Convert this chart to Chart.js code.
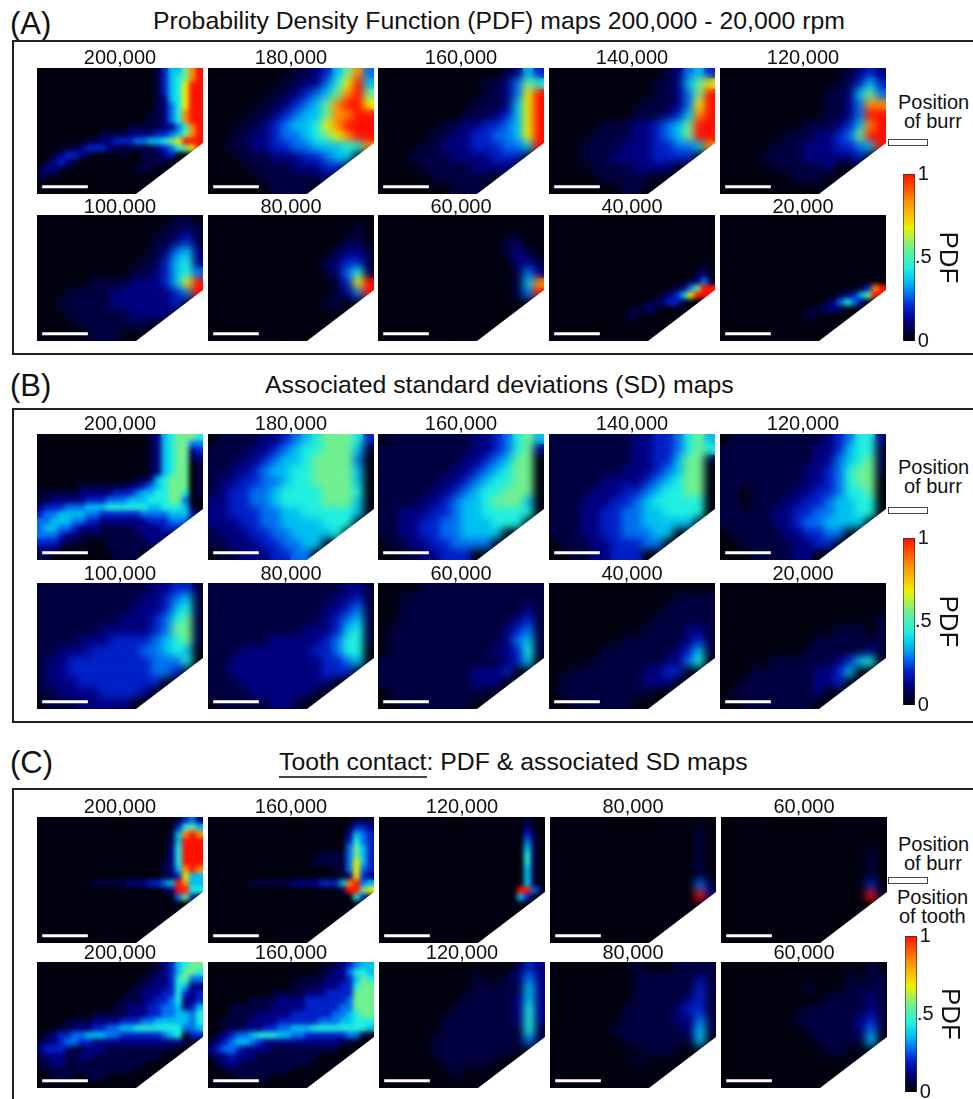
<!DOCTYPE html>
<html>
<head>
<meta charset="utf-8">
<script src="https://cdn.jsdelivr.net/npm/chart.js@4"></script>
<style>
  html, body { margin: 0; padding: 0; background: #fff; }
  #page { position: relative; width: 973px; height: 1099px; overflow: hidden; font-family: "Liberation Sans", Arial, sans-serif; color: #111; }
  #page canvas { position: absolute; display: block; }
  .txt { position: absolute; white-space: nowrap; line-height: 1; }
  .frame { position: absolute; left: 12px; width: 980px; border: 2px solid #222; box-sizing: border-box; }
  .burr { position: absolute; left: 888px; width: 40px; height: 7px; border: 1.5px solid #444; box-sizing: border-box; background: #fff; }
</style>
</head>
<body>
<div id="page"></div>
<script>
// intensity level of each cell, one hex digit per cell
// panels with thin features use 18 rows of 24 columns, the others 12 rows of 16
const a200 = ["00000000000000000135579a","00000000000000000135679a","0000000000000000013568aa","0000000000000000013568aa","0000000000000000012568aa","0000000000000000012468aa","0000000000000000112469aa","0000000000000000112469aa","00000000000001111122469a","00000000011112222334579a","000000011223334455678aaa","00001123332111111234678a","001233210000100111230000","012321000000000111100000","122100000000001110000000","110000000000000000000000","000000000000000000000000","000000000000000000000000"];
const a180 = ["0000000011235794","00000001122468a5","00000011234579a7","0000011234579aa8","00001123455799aa","0001123455689aaa","00112234456789aa","0011223344555669","0001112223345500","0000111122233000","0000011111120000","0000001111000000"];
const a160 = ["0000000000001253","0000000000112476","000000000011248a","000000000111258a","000000001112358a","000000112233458a","000001122334458a","000011222333445a","0001111222233300","0000111112222000","0000011111100000","0000000111000000"];
const a140 = ["0000000000012453","0000000000112578","000000000011247a","000000000111248a","000000001112359a","00000111223457aa","00001111223457aa","0001111222334459","0001112222333300","0000111122220000","0000011111000000","0000000110000000"];
const a120 = ["0000000000001232","0000000000011353","0000000000112574","0000000000112499","00000000001124aa","000000001112359a","00000011122347aa","000001112223345a","0000111122222300","0000011111200000","0000000111000000","0000000000000000"];
const a100 = ["0000000000000110","0000000000001121","0000000000011231","0000000000012452","0000000000113562","0000000001123564","000001111222358a","000111122222234a","0011111222222300","0001111112222000","0000111111100000","0000011100000000"];
const a80 = ["0000000000000000","0000000000000010","0000000000000110","0000000000001221","0000000000012331","0000000000012461","000000000000138a","000000000000124a","0000000000011000","0000000000000000","0000000000000000","0000000000000000"];
const a60 = ["0000000000000000","0000000000000000","0000000000001100","0000000000001210","0000000000000221","0000000000000142","0000000000000159","000000000000014a","0000000000000000","0000000000000000","0000000000000000","0000000000000000"];
const a40 = ["000000000000000000000000","000000000000000000000000","000000000000000000000000","000000000000000000000000","000000000000000000000000","000000000000000000000000","000000000000000000000000","000000000000000000000010","000000000000000000000120","000000000000000000001241","0000000000000000001247aa","000000000000000012358aaa","000000000000001123310000","000000000000112100000000","000000000001100000000000","000000000000000000000000","000000000000000000000000","000000000000000000000000"];
const a20 = ["000000000000000000000000","000000000000000000000000","000000000000000000000000","000000000000000000000000","000000000000000000000000","000000000000000000000000","000000000000000000000000","000000000000000000000000","000000000000000000000000","000000000000000000000000","00000000000000000000139a","0000000000000000012357aa","000000000000000124642000","000000000000011221000000","000000000000110000000000","000000000000000000000000","000000000000000000000000","000000000000000000000000"];

const b200 = ["000000000000000012567776","000000000000000012567744","000000000000000012567723","000000000000000012567712","000000000000000012567701","000000000000000012567701","000000000000001125677701","000000111111122345677701","111111222223334556677601","112222233344455566677400","233344455566666655666510","344555544333333444455530","445554433222222233344400","455443222111112222333000","444322111111111222200000","333211100011111122000000","222100000011111100000000","110000000001111000000000"];
const b180 = ["0111122345677763","1111223456677751","1112234556777740","1122345566777750","1223344566777750","1233445666677760","2233445666677750","2233344556666650","2223344555566600","1222334455556000","1122233445500000","0112223344000000"];
const b160 = ["0111111112234675","1111111112234672","1111111122345770","1111111223456770","1111112234566770","1111122345667770","1111223455677750","1122233455666660","1122334455566600","1122334455550000","0112233444400000","0011223330000000"];
const b140 = ["1111111122334675","1111111122334676","1111111122335771","1111111222345770","1111122223456770","1111222334566770","1112223345666660","1112233445566660","1112233445555500","1112233444550000","0111223334400000","0011223330000000"];
const b120 = ["0111111111234662","1111111112235661","1111111112245671","1111111122346771","1111111122346770","1101111223346670","1101112233455660","1111122334455660","1111122344555500","0111112233440000","0011111223300000","0001111220000000"];
const b100 = ["1111111111122331","1111111111223451","1111111112223561","1111111122234671","1111112222234771","1111222333345671","1122233333445650","1223333333344460","1223333333344300","1222333333330000","1122223333200000","0111222220000000"];
const b80 = ["1111111111111221","1111111111112231","1111111111122341","1111111111123451","1111111112223561","1111112222234661","1112222222334660","1122222222233450","1122222222233300","1112222222220000","1111222222100000","0111112210000000"];
const b60 = ["0000111111111111","0011111111111111","0011111111111121","0011111111111231","0111111111112341","0111111111112451","0111111111122361","1111111111112350","1111111112223000","1111111112220000","0111111111100000","0011111110000000"];
const b40 = ["0000000000000000","0000000000001111","0000000000011111","0000000000111111","0000000001111221","0000000111111231","0000011111112351","0000111111122460","0011111112233000","0111111112220000","0111111111000000","0011111100000000"];
const b20 = ["0000000000000000","0000000000000000","0000000000000000","0000000000000001","0000000000011101","0000000001111111","0000000011111121","0000011111123560","0001111112235000","0011111112230000","0111111112000000","0011111110000000"];

const c200 = ["000000000000000000001342","000000000000000000003675","0000000000000000000159a9","000000000000000000015aaa","000000000000000000026aaa","000000000000000000026aaa","000000000000000000126aaa","0000000000000000001259a9","000000000000000000113855","00000000111112223345a955","00000000000000000012aa66","000000000000000000004730","000000000000000000000000","000000000000000000000000","000000000000000000000000","000000000000000000000000","000000000000000000000000","000000000000000000000000"];
const c160 = ["000000000000000000000111","000000000000000000001332","000000000000000000002543","000000000000000000003643","000000000000000000004753","000000000000000011114753","000000000000000111114853","000000000000000000114843","000000000000000000002832","000000111111222233359a45","00000000000000000001aa78","000000000000000000000630","000000000000000000000000","000000000000000000000000","000000000000000000000000","000000000000000000000000","000000000000000000000000","000000000000000000000000"];
const c120 = ["000000000000000000000100","000000000000000000000200","000000000000000000000310","000000000000000000000410","000000000000000000000510","000000000000000000000610","000000000000000000000610","000000000000000000000510","000000000000000000000510","000000000000000000000510","00000000000000000000aa41","000000000000000000005300","000000000000000000000000","000000000000000000000000","000000000000000000000000","000000000000000000000000","000000000000000000000000","000000000000000000000000"];
const c80 = ["0000000000000000","0000000000000010","0000000000000010","0000000000000010","0000000000000010","0000000000000010","0000000000000041","00000000000000a2","0000000000000000","0000000000000000","0000000000000000","0000000000000000"];
const c60 = ["0000000000000000","0000000000000000","0000000000000000","0000000000000010","0000000000000010","0000000000000010","0000000000000030","00000000000000a1","0000000000000000","0000000000000000","0000000000000000","0000000000000000"];
const d200 = ["000000000000000001235677","000000000000000011235776","000000000000000112236744","000000000000001122236522","000000000000011222336323","000000000000111223346223","000000000001122233445235","000000001111122233445546","000011112222333445555546","000112223344556666666445","012334455544333333456033","122344332222222222222100","233321122211111111110000","122211221111111111000000","112211111111111100000000","011111111111110000000000","001110011100000000000000","000000000000000000000000"];
const d160 = ["000000000000000001123455","000000000000000011224665","000000000000011112223576","000000000000111122233677","000000000111112223333777","000000111122223333334777","000111111222223333344777","000111122222333333445677","001111222233333344455666","001112223344555666666665","012344566655443333334410","123455432222222222211000","234432222111111111100000","122322211111111100000000","012221111111111000000000","001111111111000000000000","000011111000000000000000","000000000000000000000000"];
const d120 = ["0000000000000132","0000000001001242","0000000001111152","0000000011111252","0000000111111262","0000001111111262","0000001111111161","0000011111111141","0000011111111000","0000001111100000","0000000100000000","0000000000000000"];
const d80 = ["0000000010001111","0000000011111121","0000000011111131","0000000011111231","0000000111112331","0000000111112241","0000001111111251","0000000111111150","0000000001110000","0000000010000000","0000000000000000","0000000000000000"];
const d60 = ["0000000000000010","0000000000001011","0000000010001111","0000000000111121","0000000011111121","0000000111111231","0000000011111241","0000000001111150","0000000000110000","0000000000000000","0000000000000000","0000000000000000"];

const rpmLabels = ["200,000","180,000","160,000","140,000","120,000","100,000","80,000","60,000","40,000","20,000"];
const toothLabels = ["200,000","160,000","120,000","80,000","60,000"];
const barTicks = [0, 0.5, 1];
const barTickLabels = ["0", ".5", "1"];
const scaleBar = [{ x: 0.5, y: 11.3 }, { x: 4.9, y: 11.3 }];

// jet style colour map, one colour per level
const palette = ["#00000f", "#000040", "#000080", "#0020c8", "#0070f0", "#00c0f0", "#20f0e0", "#70f090", "#f0f000", "#ff8c00", "#ff1000"];
const paletteStops = [0, 0.06, 0.12, 0.2, 0.28, 0.36, 0.44, 0.56, 0.68, 0.84, 1];

const FONT = '"Liberation Sans", Arial, sans-serif';
const PANEL_W = 166;
const PANEL_H = 126;
const page = document.getElementById('page');

/** Paints the black panel, then smooths the cells once they are drawn. */
const heatPlugin = {
    id: 'heat',
    beforeDatasetsDraw(chart) {
        const a = chart.chartArea;
        chart.ctx.fillStyle = palette[0];
        chart.ctx.fillRect(a.left, a.top, a.right - a.left, a.bottom - a.top);
    },
    afterDatasetDraw(chart, args, opts) {
        if (args.index !== 0) return;
        const a = chart.chartArea;
        const ctx = chart.ctx;
        ctx.save();
        ctx.beginPath();
        ctx.rect(a.left, a.top, a.right - a.left, a.bottom - a.top);
        ctx.clip();
        ctx.filter = `blur(${opts.blur}px)`;
        ctx.drawImage(chart.canvas, 0, 0);
        ctx.restore();
    }
};

function addCanvas(left, top, width, height) {
    const canvas = document.createElement('canvas');
    canvas.width = width;
    canvas.height = height;
    canvas.style.left = left + 'px';
    canvas.style.top = top + 'px';
    canvas.style.width = width + 'px';
    canvas.style.height = height + 'px';
    page.appendChild(canvas);
    return canvas;
}

function addText(text, left, centerY, size, extra) {
    const el = document.createElement('div');
    el.className = 'txt';
    el.innerHTML = text;
    el.style.left = left + 'px';
    el.style.top = (centerY - size / 2) + 'px';
    el.style.fontSize = size + 'px';
    if (extra) Object.assign(el.style, extra);
    page.appendChild(el);
    return el;
}

// all panels share a 16 x 12 data space whatever their cell count
function cellsFrom(rows) {
    const cells = [];
    rows.forEach((row, r) => {
        [...row].forEach((ch, c) => {
            cells.push({ x: (c + 0.5) * 16 / row.length, y: (r + 0.5) * 12 / rows.length, v: parseInt(ch, 16) });
        });
    });
    return cells;
}

/**
 * One heat map panel with its rpm label and scale bar.
 * labelDrop is how far the label box reaches into the panel.
 */
function addPanel(rows, label, left, top, labelDrop) {
    const titleH = 20 - labelDrop;
    const canvas = addCanvas(left, top - titleH, PANEL_W, PANEL_H + titleH);
    canvas.style.clipPath = `polygon(0 0, ${PANEL_W}px 0, ${PANEL_W}px ${titleH + 75}px, 99px ${titleH + PANEL_H}px, 0 ${titleH + PANEL_H}px)`;
    const cellPx = PANEL_H / rows.length;
    new Chart(canvas, {
        type: 'scatter',
        data: {
            datasets: [
                {
                    data: cellsFrom(rows),
                    pointStyle: 'rect',
                    pointRadius: cellPx / Math.SQRT2 + 0.4,
                    borderWidth: 0,
                    backgroundColor: (ctx) => palette[ctx.raw ? ctx.raw.v : 0],
                    order: 2,
                },
                {
                    data: scaleBar,
                    showLine: true,
                    borderColor: '#fff',
                    borderWidth: 3,
                    pointRadius: 0,
                    order: 1,
                },
            ],
        },
        options: {
            responsive: false,
            animation: false,
            events: [],
            layout: { padding: 0, autoPadding: false },
            scales: {
                x: { display: false, min: 0, max: 16 },
                y: { display: false, min: 0, max: 12, reverse: true },
            },
            plugins: {
                legend: { display: false },
                tooltip: { enabled: false },
                heat: { blur: rows.length > 12 ? 2.5 : 4 },
                title: {
                    display: true,
                    text: label,
                    color: '#111',
                    font: { size: 20, family: FONT, weight: 'normal', lineHeight: 1 },
                    padding: { top: 0, bottom: -labelDrop },
                },
            },
        },
        plugins: [heatPlugin],
    });
}

/** Vertical colour bar: a single 0 to 1 bar filled with the colour map. */
function addColorBar(left, top, bottom) {
    const pad = 12;
    const canvas = addCanvas(left, top - pad, 60, bottom - top + pad * 2);
    new Chart(canvas, {
        type: 'bar',
        data: {
            labels: ['PDF'],
            datasets: [{
                data: [1],
                barPercentage: 1,
                categoryPercentage: 1,
                borderWidth: 1,
                borderColor: '#333',
                backgroundColor: (ctx) => {
                    const a = ctx.chart.chartArea;
                    if (!a) return palette[0];
                    const g = ctx.chart.ctx.createLinearGradient(0, a.bottom, 0, a.top);
                    palette.forEach((col, i) => g.addColorStop(paletteStops[i], col));
                    return g;
                },
            }],
        },
        options: {
            responsive: false,
            animation: false,
            events: [],
            layout: { padding: { top: pad, bottom: pad } },
            scales: {
                x: { display: false },
                y: {
                    position: 'right',
                    min: 0,
                    max: 1,
                    afterBuildTicks: (s) => { s.ticks = barTicks.map((v) => ({ value: v })); },
                    afterFit: (s) => { s.width = 48; },
                    grid: { display: false, drawTicks: false },
                    border: { display: false },
                    ticks: {
                        padding: 0,
                        crossAlign: 'center',
                        color: '#111',
                        font: { size: 20, family: FONT },
                        callback: (v) => barTickLabels[barTicks.indexOf(v)],
                    },
                    title: {
                        display: true,
                        text: 'PDF',
                        color: '#111',
                        padding: 0,
                        font: { size: 26, family: FONT },
                    },
                },
            },
            plugins: { legend: { display: false }, tooltip: { enabled: false } },
        },
    });
}

function addFrame(top, height) {
    const el = document.createElement('div');
    el.className = 'frame';
    el.style.top = top + 'px';
    el.style.height = height + 'px';
    page.appendChild(el);
}

function addBurr(top, centerLeft, y1, y2) {
    addText('Position', centerLeft, y1, 20);
    addText('of burr', centerLeft + 6, y2, 20);
    const el = document.createElement('div');
    el.className = 'burr';
    el.style.top = top + 'px';
    page.appendChild(el);
}

// Section A
addText('(A)', 10, 23, 31);
addText('Probability Density Function (PDF) maps 200,000 - 20,000 rpm', 153, 21, 24.8);
addFrame(40, 315);
[a200, a180, a160, a140, a120].forEach((rows, i) => addPanel(rows, rpmLabels[i], [37, 208, 378, 549, 720][i], 68, 0));
[a100, a80, a60, a40, a20].forEach((rows, i) => addPanel(rows, rpmLabels[i + 5], [37, 208, 378, 549, 720][i], 215, 2));
addBurr(139, 898, 102, 121);
addColorBar(903, 174, 341);

// Section B
addText('(B)', 10, 385, 31);
addText('Associated standard deviations (SD) maps', 265, 385, 24.8);
addFrame(408, 315);
[b200, b180, b160, b140, b120].forEach((rows, i) => addPanel(rows, rpmLabels[i], [37, 208, 378, 549, 720][i], 434, 0));
[b100, b80, b60, b40, b20].forEach((rows, i) => addPanel(rows, rpmLabels[i + 5], [37, 208, 378, 549, 720][i], 583, 1));
addBurr(507, 898, 467, 486);
addColorBar(903, 538, 705);

// Section C
addText('(C)', 10, 762, 31);
addText('<span style="border-bottom:2px solid #444;padding-bottom:1px">Tooth contact</span>: PDF &amp; associated SD maps', 279, 762, 24.8);
addFrame(788, 340);
[c200, c160, c120, c80, c60].forEach((rows, i) => addPanel(rows, toothLabels[i], [37, 208, 379, 550, 721][i], 817, 0));
[d200, d160, d120, d80, d60].forEach((rows, i) => addPanel(rows, toothLabels[i], [37, 208, 379, 550, 721][i], 962, 1));
addBurr(877, 898, 844, 863);
addText('Position', 897, 897, 20);
addText('of tooth', 899, 916, 20);
addColorBar(905, 936, 1092);
</script>
</body>
</html>
